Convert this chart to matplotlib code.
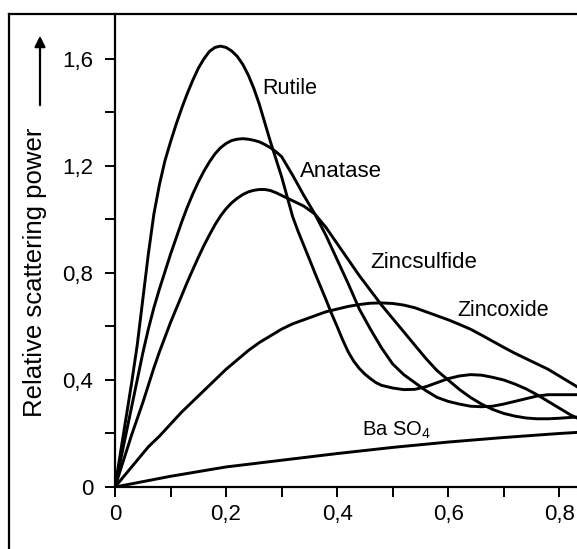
import matplotlib
matplotlib.use("Agg")
import matplotlib.pyplot as plt
from matplotlib.lines import Line2D
from matplotlib.ticker import MultipleLocator, FixedLocator, FixedFormatter

plt.rcParams.update({
    "font.family": ["Liberation Sans", "DejaVu Sans"],
    "mathtext.fontset": "custom",
    "mathtext.rm": "Liberation Sans",
})

# values (x = particle size, y = relative scattering power)
rutile_x = [0, 0.01, 0.02, 0.03, 0.04, 0.05, 0.06, 0.07, 0.08, 0.09, 0.10, 0.11, 0.12,
            0.13, 0.14, 0.15, 0.16, 0.17, 0.18, 0.19, 0.20, 0.21, 0.22, 0.23, 0.24,
            0.25, 0.26, 0.27, 0.28, 0.29, 0.30, 0.31, 0.32, 0.33, 0.34, 0.35, 0.36,
            0.37, 0.38, 0.39, 0.40, 0.41, 0.42, 0.43, 0.44, 0.45, 0.46, 0.47, 0.48,
            0.50, 0.52, 0.54, 0.56, 0.58, 0.60, 0.62, 0.64, 0.66, 0.68, 0.70, 0.72,
            0.74, 0.76, 0.78, 0.80, 0.82, 0.84]
rutile_y = [0, 0.13, 0.26, 0.39, 0.53, 0.70, 0.87, 1.02, 1.13, 1.22, 1.29, 1.355, 1.415,
            1.47, 1.52, 1.565, 1.60, 1.628, 1.643, 1.648, 1.643, 1.63, 1.61, 1.58, 1.54,
            1.49, 1.43, 1.36, 1.29, 1.225, 1.16, 1.085, 1.01, 0.954, 0.903, 0.852, 0.80,
            0.75, 0.70, 0.648, 0.60, 0.55, 0.505, 0.47, 0.443, 0.422, 0.405, 0.39, 0.38,
            0.37, 0.364, 0.365, 0.375, 0.39, 0.405, 0.415, 0.42, 0.418, 0.41, 0.40, 0.385,
            0.367, 0.345, 0.32, 0.295, 0.27, 0.25]

anatase_x = [0, 0.01, 0.02, 0.03, 0.04, 0.05, 0.06, 0.07, 0.08, 0.09, 0.10, 0.11, 0.12,
             0.13, 0.14, 0.15, 0.16, 0.17, 0.18, 0.19, 0.20, 0.21, 0.22, 0.23, 0.24,
             0.25, 0.26, 0.27, 0.28, 0.29, 0.30, 0.31, 0.32, 0.34, 0.36, 0.38, 0.40,
             0.42, 0.44, 0.46, 0.48, 0.50, 0.52, 0.54, 0.56, 0.58, 0.60, 0.62, 0.64,
             0.66, 0.68, 0.70, 0.72, 0.74, 0.76, 0.78, 0.80, 0.82, 0.84]
anatase_y = [0, 0.10, 0.20, 0.30, 0.40, 0.50, 0.59, 0.67, 0.74, 0.805, 0.87, 0.93, 0.99,
             1.045, 1.095, 1.14, 1.18, 1.215, 1.245, 1.268, 1.284, 1.295, 1.30, 1.302, 1.30,
             1.296, 1.29, 1.28, 1.268, 1.253, 1.235, 1.20, 1.165, 1.09, 1.02, 0.94, 0.85,
             0.76, 0.665, 0.59, 0.52, 0.46, 0.42, 0.39, 0.36, 0.335, 0.32, 0.31, 0.302,
             0.30, 0.302, 0.31, 0.32, 0.33, 0.34, 0.345, 0.345, 0.345, 0.345]

zincsulfide_x = [0, 0.01, 0.02, 0.03, 0.04, 0.05, 0.06, 0.07, 0.08, 0.09, 0.10, 0.11, 0.12,
                 0.13, 0.14, 0.15, 0.16, 0.17, 0.18, 0.19, 0.20, 0.21, 0.22, 0.23, 0.24,
                 0.25, 0.26, 0.27, 0.28, 0.29, 0.30, 0.32, 0.34, 0.36, 0.38, 0.40, 0.42,
                 0.44, 0.46, 0.48, 0.50, 0.52, 0.54, 0.56, 0.58, 0.60, 0.62, 0.64, 0.66,
                 0.68, 0.70, 0.72, 0.74, 0.76, 0.78, 0.80, 0.82, 0.84]
zincsulfide_y = [0, 0.065, 0.13, 0.195, 0.255, 0.315, 0.38, 0.445, 0.505, 0.56, 0.615, 0.665, 0.715,
                 0.765, 0.812, 0.858, 0.902, 0.942, 0.98, 1.013, 1.04, 1.062, 1.079, 1.093, 1.103,
                 1.109, 1.112, 1.112, 1.108, 1.10, 1.09, 1.07, 1.05, 1.02, 0.97, 0.91, 0.85,
                 0.79, 0.735, 0.68, 0.63, 0.58, 0.53, 0.48, 0.435, 0.40, 0.365, 0.335, 0.31,
                 0.29, 0.275, 0.265, 0.258, 0.255, 0.255, 0.257, 0.26, 0.262]

zincoxide_x = [0, 0.02, 0.04, 0.06, 0.08, 0.10, 0.12, 0.14, 0.16, 0.18, 0.20, 0.22, 0.24,
               0.26, 0.28, 0.30, 0.32, 0.34, 0.36, 0.38, 0.40, 0.42, 0.44, 0.46, 0.48,
               0.50, 0.52, 0.54, 0.56, 0.58, 0.60, 0.62, 0.64, 0.66, 0.68, 0.70, 0.72,
               0.74, 0.76, 0.78, 0.80, 0.82, 0.84]
zincoxide_y = [0, 0.05, 0.10, 0.15, 0.19, 0.235, 0.28, 0.32, 0.36, 0.40, 0.44, 0.475, 0.51,
               0.54, 0.565, 0.59, 0.61, 0.625, 0.64, 0.655, 0.665, 0.675, 0.682, 0.687, 0.688,
               0.686, 0.68, 0.67, 0.655, 0.64, 0.625, 0.608, 0.59, 0.568, 0.545, 0.522, 0.50,
               0.48, 0.46, 0.44, 0.415, 0.39, 0.365]

baso4_x = [0, 0.05, 0.10, 0.20, 0.30, 0.40, 0.50, 0.60, 0.70, 0.80, 0.84]
baso4_y = [0, 0.02, 0.04, 0.075, 0.10, 0.125, 0.148, 0.168, 0.185, 0.20, 0.205]

x_ticks = [0, 0.2, 0.4, 0.6, 0.8]
x_labels = ["0", "0,2", "0,4", "0,6", "0,8"]
y_ticks = [0, 0.4, 0.8, 1.2, 1.6]
y_labels = ["0", "0,4", "0,8", "1,2", "1,6"]

fig = plt.figure(figsize=(5.77, 5.49), dpi=100)
ax = fig.add_axes([115 / 577, 62 / 549, 462 / 577, 473 / 549])

for xs, ys in [(rutile_x, rutile_y), (anatase_x, anatase_y),
               (zincsulfide_x, zincsulfide_y), (zincoxide_x, zincoxide_y),
               (baso4_x, baso4_y)]:
    ax.plot(xs, ys, '-', color='black', lw=2.1, solid_joinstyle='round')

ax.set_xlim(0, 0.832)
ax.set_ylim(0, 1.768)

ax.spines['top'].set_visible(False)
ax.spines['right'].set_visible(False)
ax.spines['left'].set_linewidth(1.6)
ax.spines['bottom'].set_linewidth(1.6)

ax.xaxis.set_major_locator(FixedLocator(x_ticks))
ax.xaxis.set_major_formatter(FixedFormatter(x_labels))
ax.xaxis.set_minor_locator(MultipleLocator(0.1))
ax.yaxis.set_major_locator(FixedLocator(y_ticks))
ax.yaxis.set_major_formatter(FixedFormatter(y_labels))
ax.yaxis.set_minor_locator(MultipleLocator(0.2))
ax.tick_params(axis='both', which='both', direction='out', length=7.5, width=1.4,
               labelsize=16, colors='black')
ax.tick_params(axis='y', which='major', pad=8)
ax.tick_params(axis='x', which='major', pad=5)

# curve names
ax.text(0.265, 1.49, "Rutile", fontsize=15.5, va='center', ha='left')
ax.text(0.333, 1.18, "Anatase", fontsize=16, va='center', ha='left')
ax.text(0.46, 0.84, "Zincsulfide", fontsize=16, va='center', ha='left')
ax.text(0.616, 0.66, "Zincoxide", fontsize=15.5, va='center', ha='left')
ax.text(0.445, 0.21, r"Ba SO$_\mathregular{4}$", fontsize=14.5, va='center', ha='left')

# y label with arrow, as in the original drawing
fig.text(35 / 577, 1 - 272 / 549, "Relative scattering power", rotation=90,
         ha='center', va='center', fontsize=18.5)
ax.annotate('', xy=(40 / 577, 1 - 33 / 549), xytext=(40 / 577, 1 - 108 / 549),
            xycoords='figure fraction', textcoords='figure fraction',
            arrowprops=dict(arrowstyle='-|>', lw=1.6, color='black', mutation_scale=16))

# outer frame (left and top edges are visible in the scan)
fig.add_artist(Line2D([9 / 577, 9 / 577], [0, 1 - 14 / 549], transform=fig.transFigure,
                      color='black', lw=1.6))
fig.add_artist(Line2D([9 / 577, 1], [1 - 14 / 549, 1 - 14 / 549], transform=fig.transFigure,
                      color='black', lw=1.6))

plt.savefig('out.png', dpi=100)
